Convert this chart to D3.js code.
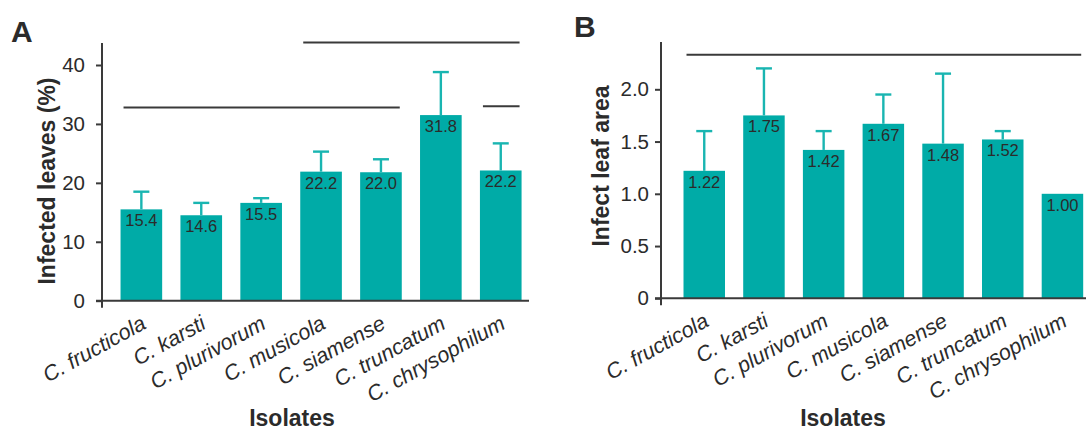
<!DOCTYPE html>
<html><head><meta charset="utf-8">
<script src="https://cdn.jsdelivr.net/npm/d3@7/dist/d3.min.js"></script>
<style>body{margin:0;background:#fff}svg{display:block}</style>
</head><body><svg id="c" width="1086" height="430"></svg>
<script>
const categories = ["C. fructicola","C. karsti","C. plurivorum","C. musicola","C. siamense","C. truncatum","C. chrysophilum"];

const leavesValues = [15.5, 14.5, 16.6, 21.9, 21.8, 31.5, 22.1];
const leavesLabels = ["15.4","14.6","15.5","22.2","22.0","31.8","22.2"];
const leavesErrTop = [18.5, 16.6, 17.4, 25.3, 24.0, 38.8, 26.7];
const leavesTicks = [0, 10, 20, 30, 40];
const leavesTickLabels = ["0","10","20","30","40"];
const leavesSig = [[3, 6, 43.8], [0, 4, 32.8], [6, 6, 33.0]];

const areaValues = [1.22, 1.75, 1.42, 1.67, 1.48, 1.52, 1.00];
const areaLabels = ["1.22","1.75","1.42","1.67","1.48","1.52","1.00"];
const areaErrTop = [1.60, 2.20, 1.60, 1.95, 2.15, 1.60, null];
const areaTicks = [0, 0.5, 1.0, 1.5, 2.0];
const areaTickLabels = ["0","0.5","1.0","1.5","2.0"];
const areaSig = [[0, 6, 2.33]];

const TEAL = "#00aba7", ERR = "#19b5b1", AX = "#3a3a3a", TXT = "#2b2b2b";
const FONT = "'Liberation Sans', Arial, sans-serif";
const svg = d3.select("#c");

function panel(o) {
  const g = svg.append("g").attr("font-family", FONT);
  const x = d3.scaleBand().domain(categories).range([o.bandStart, o.bandStart + 7 * o.step])
    .paddingInner(0.305).paddingOuter(0.1525);
  const y = d3.scaleLinear().domain([o.ticks[0], o.ticks[o.ticks.length - 1]]).range([o.y0, o.yTop]);

  // bars
  g.selectAll("rect.bar").data(o.values).join("rect")
    .attr("x", (d, i) => x(categories[i])).attr("width", x.bandwidth())
    .attr("y", d => y(d)).attr("height", d => y(0) - y(d)).attr("fill", TEAL);

  // error bars
  o.err.forEach((e, i) => {
    if (e == null) return;
    const cx = x(categories[i]) + x.bandwidth() / 2;
    g.append("line").attr("x1", cx).attr("x2", cx).attr("y1", y(o.values[i])).attr("y2", y(e))
      .attr("stroke", ERR).attr("stroke-width", 2.4);
    g.append("line").attr("x1", cx - 8).attr("x2", cx + 8).attr("y1", y(e)).attr("y2", y(e))
      .attr("stroke", ERR).attr("stroke-width", 2.4);
  });

  // value labels
  g.selectAll("text.val").data(o.labels).join("text")
    .attr("x", (d, i) => x(categories[i]) + x.bandwidth() / 2)
    .attr("y", (d, i) => y(o.values[i]) + 17)
    .attr("text-anchor", "middle").attr("font-size", 16.5).attr("fill", TXT).text(d => d);

  // significance lines
  o.sig.forEach(s => {
    g.append("line")
      .attr("x1", x(categories[s[0]]) + 3).attr("x2", x(categories[s[1]]) + x.bandwidth() - 2)
      .attr("y1", y(s[2])).attr("y2", y(s[2])).attr("stroke", AX).attr("stroke-width", 2);
  });

  // axes
  g.append("line").attr("x1", o.axisX).attr("x2", o.axisX).attr("y1", o.axisTop).attr("y2", y(0) + 7)
    .attr("stroke", AX).attr("stroke-width", 2);
  g.append("line").attr("x1", o.axisX - 6).attr("x2", o.xEnd).attr("y1", y(0)).attr("y2", y(0))
    .attr("stroke", AX).attr("stroke-width", 2);
  const ax = d3.axisLeft(y).tickValues(o.ticks).tickSize(6).tickPadding(o.tickPad)
    .tickFormat((d, i) => o.tickLabels[i]);
  const axg = g.append("g").attr("transform", `translate(${o.axisX},0)`).call(ax);
  axg.select(".domain").remove();
  axg.selectAll(".tick line").attr("stroke", AX).attr("stroke-width", 2);
  axg.selectAll(".tick text").attr("font-size", 20.5).attr("fill", TXT).attr("font-family", FONT);

  // x labels
  g.selectAll("text.xl").data(categories).join("text")
    .attr("transform", d => `translate(${x(d) + x.bandwidth() / 2 + 6},${y(0) + 27}) rotate(-29)`)
    .attr("text-anchor", "end").attr("font-size", 21.5).attr("font-style", "italic")
    .attr("fill", TXT).text(d => d);

  // titles
  g.append("text").attr("x", o.xTitleX).attr("y", 426).attr("text-anchor", "middle")
    .attr("font-size", 23).attr("font-weight", "bold").attr("fill", TXT).text("Isolates");
  g.append("text").attr("transform", `translate(${o.yTitleX},${o.yTitleY}) rotate(-90)`)
    .attr("text-anchor", "middle").attr("font-size", 23).attr("font-weight", "bold")
    .attr("fill", TXT).text(o.yTitle);
  g.append("text").attr("x", o.letterX).attr("y", o.letterY).attr("font-size", 30)
    .attr("font-weight", "bold").attr("fill", TXT).text(o.letter);
}

panel({values: leavesValues, labels: leavesLabels, err: leavesErrTop, ticks: leavesTicks,
  tickLabels: leavesTickLabels, sig: leavesSig, bandStart: 111.4, step: 59.9, y0: 300.7, yTop: 65,
  axisX: 102, axisTop: 43, xEnd: 529, tickPad: 11, xTitleX: 292, yTitleX: 55, yTitleY: 181,
  yTitle: "Infected leaves (%)", letter: "A", letterX: 11, letterY: 42});

panel({values: areaValues, labels: areaLabels, err: areaErrTop, ticks: areaTicks,
  tickLabels: areaTickLabels, sig: areaSig, bandStart: 674.4, step: 59.7, y0: 298.3, yTop: 89.3,
  axisX: 661, axisTop: 42, xEnd: 1086, tickPad: 6, xTitleX: 843, yTitleX: 609, yTitleY: 166,
  yTitle: "Infect leaf area", letter: "B", letterX: 574, letterY: 37});
</script></body></html>
